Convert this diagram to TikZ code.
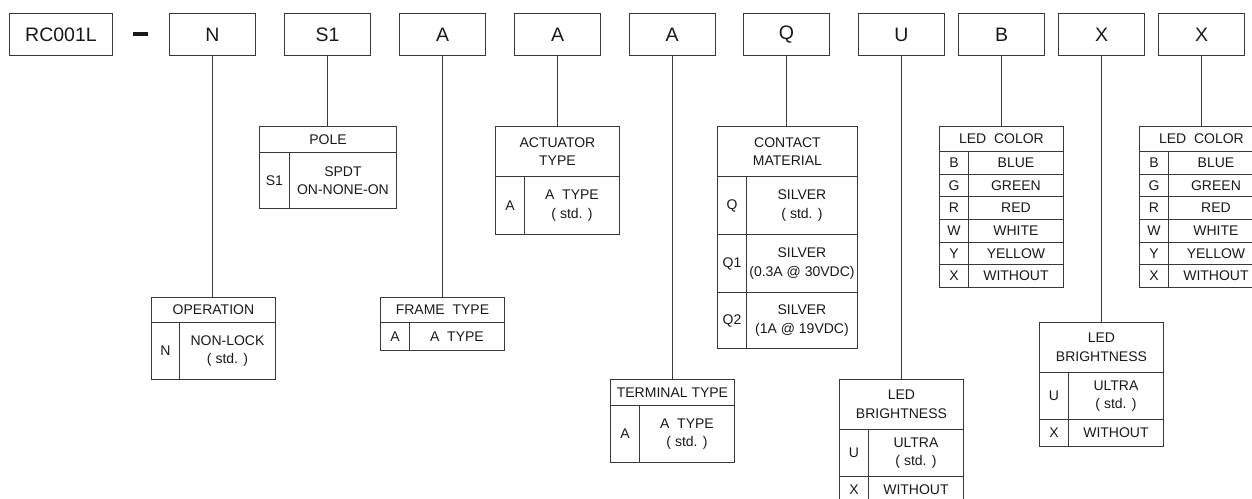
\documentclass[tikz,border=0pt]{standalone}
\usepackage{fontspec}
\setmainfont{Liberation Sans}
\definecolor{lc}{rgb}{0.22,0.22,0.22}
\definecolor{tc}{rgb}{0.1,0.1,0.1}
\newcommand\tabf{\fontsize{14}{18.5}\selectfont}
\newcommand\topf{\fontsize{19.5}{22}\selectfont}
\newcommand\cellnode[6]{\node[cell,minimum width=#4pt,minimum height=#5pt] (#1) at (#2,#3) {#6};}
\begin{document}
\begin{tikzpicture}[x=1pt,y=-1pt,
  ln/.style={draw=lc,line width=1pt},
  topbox/.style={ln,anchor=north west,minimum width=86pt,minimum height=42pt,inner sep=0pt,font=\topf,text=tc},
  cell/.style={draw=lc,line width=0.9pt,anchor=north west,inner sep=0pt,align=center,font=\tabf,text=tc},
  conn/.style={draw=lc,line width=0.9pt}]
\useasboundingbox (0,0) rectangle (1252,498);
% top row
\node[topbox,minimum width=103pt] (rc) at (9,13) {RC001L};
\node[fill=tc,minimum width=15pt,minimum height=4pt,inner sep=0pt] (dash) at (140.5,34) {};
\node[topbox] (tN) at (169,13) {N};
\node[topbox] (tS) at (284,13) {S1};
\node[topbox] (tA1) at (399,13) {A};
\node[topbox] (tA2) at (514,13) {A};
\node[topbox] (tA3) at (628.5,13) {A};
\node[topbox] (tQ) at (743,13) {Q};
\node[topbox] (tU) at (858,13) {U};
\node[topbox] (tB) at (958,13) {B};
\node[topbox] (tX1) at (1058,13) {X};
\node[topbox] (tX2) at (1158,13) {X};
% OPERATION
\cellnode{opH}{151}{297}{124}{25}{OPERATION}
\cellnode{opK}{151}{322}{28}{57}{N}
\cellnode{opV}{179}{322}{96}{57}{NON-LOCK\\( std. )}
% POLE
\cellnode{poH}{259}{126}{137}{26}{POLE}
\cellnode{poK}{259}{152}{30}{56}{S1}
\cellnode{poV}{289}{152}{107}{56}{SPDT\\ON-NONE-ON}
% FRAME TYPE
\cellnode{frH}{380}{297}{124}{25}{FRAME\ \ TYPE}
\cellnode{frK}{380}{322}{29}{28}{A}
\cellnode{frV}{409}{322}{95}{28}{A\ \ TYPE}
% ACTUATOR TYPE
\cellnode{acH}{495}{126}{124}{50}{ACTUATOR\\TYPE}
\cellnode{acK}{495}{176}{29}{58}{A}
\cellnode{acV}{524}{176}{95}{58}{A\ \ TYPE\\( std. )}
% TERMINAL TYPE
\cellnode{teH}{610}{379}{124}{26}{TERMINAL TYPE}
\cellnode{teK}{610}{405}{29}{57}{A}
\cellnode{teV}{639}{405}{95}{57}{A\ \ TYPE\\( std. )}
% CONTACT MATERIAL
\cellnode{coH}{717}{126}{140}{50}{CONTACT\\MATERIAL}
\cellnode{coK1}{717}{176}{29}{58}{Q}
\cellnode{coV1}{746}{176}{111}{58}{SILVER\\( std. )}
\cellnode{coK2}{717}{234}{29}{58}{Q1}
\cellnode{coV2}{746}{234}{111}{58}{SILVER\\(0.3A @ 30VDC)}
\cellnode{coK3}{717}{292}{29}{56}{Q2}
\cellnode{coV3}{746}{292}{111}{56}{SILVER\\(1A @ 19VDC)}
% LED BRIGHTNESS 1
\cellnode{bAH}{839}{379}{124}{50}{LED\\BRIGHTNESS}
\cellnode{bAK1}{839}{429}{29}{47}{U}
\cellnode{bAV1}{868}{429}{95}{47}{ULTRA\\( std. )}
\cellnode{bAK2}{839}{476}{29}{27}{X}
\cellnode{bAV2}{868}{476}{95}{27}{WITHOUT}
% LED BRIGHTNESS 2
\cellnode{bBH}{1039}{322}{124}{50}{LED\\BRIGHTNESS}
\cellnode{bBK1}{1039}{372}{29}{47}{U}
\cellnode{bBV1}{1068}{372}{95}{47}{ULTRA\\( std. )}
\cellnode{bBK2}{1039}{419}{29}{27}{X}
\cellnode{bBV2}{1068}{419}{95}{27}{WITHOUT}
% LED COLOR 1 and 2
\cellnode{cAH}{939}{126}{124}{25}{LED\ \ COLOR}
\cellnode{cBH}{1139}{126}{124}{25}{LED\ \ COLOR}
\foreach \k/\v [count=\i from 0] in {B/BLUE,G/GREEN,R/RED,W/WHITE,Y/YELLOW,X/WITHOUT}{
  \cellnode{cAK\i}{939}{151+22.667*\i}{29}{22.667}{\k}
  \cellnode{cAV\i}{968}{151+22.667*\i}{95}{22.667}{\v}
  \cellnode{cBK\i}{1139}{151+22.667*\i}{29}{22.667}{\k}
  \cellnode{cBV\i}{1168}{151+22.667*\i}{95}{22.667}{\v}
}
% connectors
\draw[conn] (tN.south) -- (tN.south |- opH.north);
\draw[conn] (tS.south) -- (tS.south |- poH.north);
\draw[conn] (tA1.south) -- (tA1.south |- frH.north);
\draw[conn] (tA2.south) -- (tA2.south |- acH.north);
\draw[conn] (tA3.south) -- (tA3.south |- teH.north);
\draw[conn] (tQ.south) -- (tQ.south |- coH.north);
\draw[conn] (tU.south) -- (tU.south |- bAH.north);
\draw[conn] (tB.south) -- (tB.south |- cAH.north);
\draw[conn] (tX1.south) -- (tX1.south |- bBH.north);
\draw[conn] (tX2.south) -- (tX2.south |- cBH.north);
\end{tikzpicture}
\end{document}
